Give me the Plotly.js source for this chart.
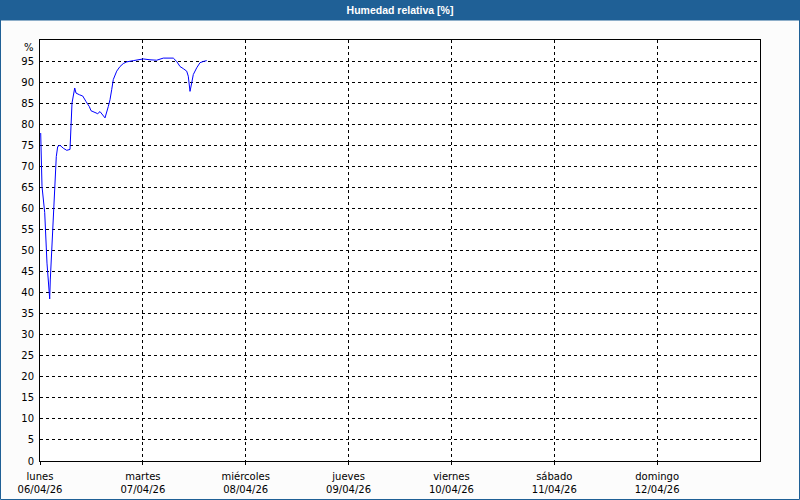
<!DOCTYPE html>
<html>
<head>
<meta charset="utf-8">
<script src="https://cdn.plot.ly/plotly-3.0.1.min.js"></script>
<style>
html,body{margin:0;padding:0;background:#fcfcfc;}
#chart{width:800px;height:500px;}
</style>
</head>
<body>
<div id="chart"></div>
<script>
// Hours since Monday 06/04/26 00:00
const hours = [0.16,0.3,0.47,1.1,1.24,1.47,1.63,1.94,2.1,2.26,2.4,2.73,2.96,3.2,3.34,3.66,3.8,4.13,4.67,5.43,6.23,7.0,7.23,7.47,8.1,8.4,9.17,9.96,10.73,11.5,11.9,12.67,13.46,14.0,14.47,15.17,15.94,16.33,16.73,17.1,17.9,18.67,19.43,20.23,21.77,24.1,25.67,27.23,28.77,31.1,31.9,32.67,33.43,34.23,34.6,35.0,35.4,35.77,36.57,37.33,38.1,38.9];
const humidity = [77.9,71.6,65.2,59.0,54.2,50.6,47.0,43.7,40.6,38.5,43.0,49.4,54.2,58.0,62.8,68.5,72.3,74.7,75.0,74.3,73.8,74.0,80.0,85.0,88.6,87.4,87.0,86.7,85.4,84.2,83.2,82.9,82.5,83.0,82.5,81.5,84.2,85.8,88.2,90.6,92.6,93.7,94.4,94.8,95.1,95.5,95.3,95.2,95.7,95.7,94.9,93.7,93.2,92.6,91.4,87.8,89.8,91.8,93.4,94.6,94.9,95.1];
const dayNames = ["lunes","martes","miércoles","jueves","viernes","sábado","domingo"];
const dayDates = ["06/04/26","07/04/26","08/04/26","09/04/26","10/04/26","11/04/26","12/04/26"];
const yTicks = [0,5,10,15,20,25,30,35,40,45,50,55,60,65,70,75,80,85,90,95,100];
const yTickText = yTicks.map(v => v === 100 ? "" : String(v));
const unitLabel = "%";

const dayTickVals = dayNames.map((_, i) => i * 24);
const dayTickText = dayNames.map((n, i) => n + "<br>" + dayDates[i]);

const blue = "#1f6096";
const W = 800, H = 500, ml = 40, mr = 40, mt = 40, mb = 39;
const pw = W - ml - mr;

const trace = {
  x: hours, y: humidity, type: "scatter", mode: "lines",
  line: {color: "#0000ff", width: 1}, hoverinfo: "skip"
};

const layout = {
  width: W, height: H, autosize: false,
  margin: {l: ml, r: mr, t: mt, b: mb, pad: 0},
  paper_bgcolor: "#fcfcfc", plot_bgcolor: "#ffffff",
  showlegend: false,
  font: {family: "DejaVu Sans, Verdana, sans-serif", size: 10, color: "#000000"},
  title: {
    text: "Humedad relativa [%]",
    x: 0.5, xanchor: "center", y: 1 - 10.5 / H, yanchor: "middle",
    font: {family: "Liberation Sans, Arial, sans-serif", size: 10.5, color: "#ffffff", weight: "bold"}
  },
  xaxis: {
    range: [0, 168], tickmode: "array", tickvals: dayTickVals, ticktext: dayTickText,
    showgrid: true, gridcolor: "#000000", gridwidth: 1, griddash: "3px,3px",
    showline: true, mirror: true, linecolor: "#000000", linewidth: 1,
    ticks: "outside", ticklen: 3, tickcolor: "#000000", zeroline: false,
    fixedrange: true, tickfont: {size: 10}, ticklabelstandoff: 3
  },
  yaxis: {
    range: [0, 100], tickmode: "array", tickvals: yTicks, ticktext: yTickText,
    showgrid: true, gridcolor: "#000000", gridwidth: 1, griddash: "3px,3px",
    showline: true, mirror: true, linecolor: "#000000", linewidth: 1,
    ticks: "", zeroline: false, fixedrange: true, tickfont: {size: 10},
    ticklabelstandoff: 3
  },
  annotations: [
    {text: unitLabel, xref: "paper", yref: "paper", x: 0, y: 1, xanchor: "right", yanchor: "middle",
     xshift: -4, yshift: -7, showarrow: false, font: {size: 10, color: "#000000"}}
  ],
  shapes: [
    {type: "rect", xref: "paper", yref: "paper", ysizemode: "pixel", yanchor: 1,
     x0: -ml / pw, x1: (W - ml) / pw, y0: 19.5, y1: 41,
     fillcolor: blue, line: {width: 0}, layer: "above"},
    {type: "rect", xref: "paper", yref: "paper", ysizemode: "pixel", yanchor: 0,
     x0: (0.5 - ml) / pw, x1: (W - 0.5 - ml) / pw,
     y0: -(mb - 0.5), y1: H - mb - 0.5,
     fillcolor: "rgba(0,0,0,0)", line: {width: 1, color: blue}, layer: "above"}
  ]
};

Plotly.newPlot("chart", [trace], layout, {displayModeBar: false, staticPlot: true});
</script>
</body>
</html>
